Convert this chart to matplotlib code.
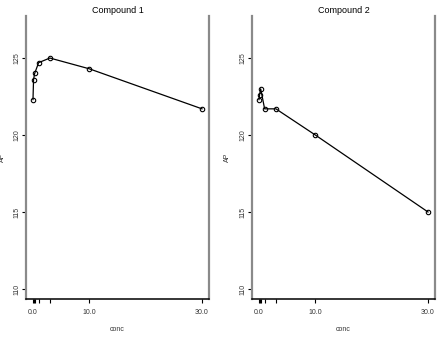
import matplotlib
matplotlib.use('Agg')
import matplotlib.pyplot as plt

# concentrations and responses
conc = [0, 0.1, 0.3, 1, 3, 10, 30]
ap_compound1 = [122.3, 123.6, 124.0, 124.7, 125.0, 124.3, 121.7]
ap_compound2 = [122.3, 122.6, 123.0, 121.7, 121.7, 120.0, 115.0]
titles = ['Compound 1', 'Compound 2']
y_ticks = [110, 115, 120, 125]
x_labelled = [0, 10, 30]

plt.rcParams['font.family'] = ['Liberation Sans', 'DejaVu Sans']

fig = plt.figure(figsize=(4.37, 3.41), dpi=100)
fig.patch.set_facecolor('white')

positions = [[26 / 437, 42 / 341, 183 / 437, 283 / 341],
             [252 / 437, 42 / 341, 183 / 437, 283 / 341]]
label_x = [-0.110, -0.117]

for pos, title, values, lx in zip(positions, titles, [ap_compound1, ap_compound2], label_x):
    ax = fig.add_axes(pos)
    ax.plot(conc, values, color='black', linewidth=0.9, marker='o', markersize=3.2,
            markerfacecolor='none', markeredgecolor='black', markeredgewidth=0.8)
    ax.set_xlim(-1.24, 31.24)
    ax.set_ylim(109.35, 127.73)

    ax.spines['top'].set_visible(False)
    for side in ['left', 'right']:
        ax.spines[side].set_color('#8a8a8a')
        ax.spines[side].set_linewidth(1.6)
    ax.spines['bottom'].set_color('black')
    ax.spines['bottom'].set_linewidth(1.1)

    ax.set_yticks(y_ticks)
    ax.set_yticklabels([str(v) for v in y_ticks], rotation=90, va='center', fontsize=5, color='#333333')
    ax.set_xticks(conc)
    ax.set_xticklabels([f'{c:.1f}' if c in x_labelled else '' for c in conc], fontsize=5, color='#333333')
    ax.tick_params(axis='y', length=3, width=0.8, color='black', pad=1)
    ax.tick_params(axis='x', length=3, width=0.8, color='black', pad=4)

    ax.set_title(title, fontsize=6.5, pad=2)
    ax.set_xlabel('conc', fontsize=5, color='#333333')
    ax.set_ylabel('AP', fontsize=5, color='#333333')
    ax.xaxis.set_label_coords(0.5, -0.095)
    ax.yaxis.set_label_coords(lx, 0.5)

fig.savefig('out.png', dpi=100)
